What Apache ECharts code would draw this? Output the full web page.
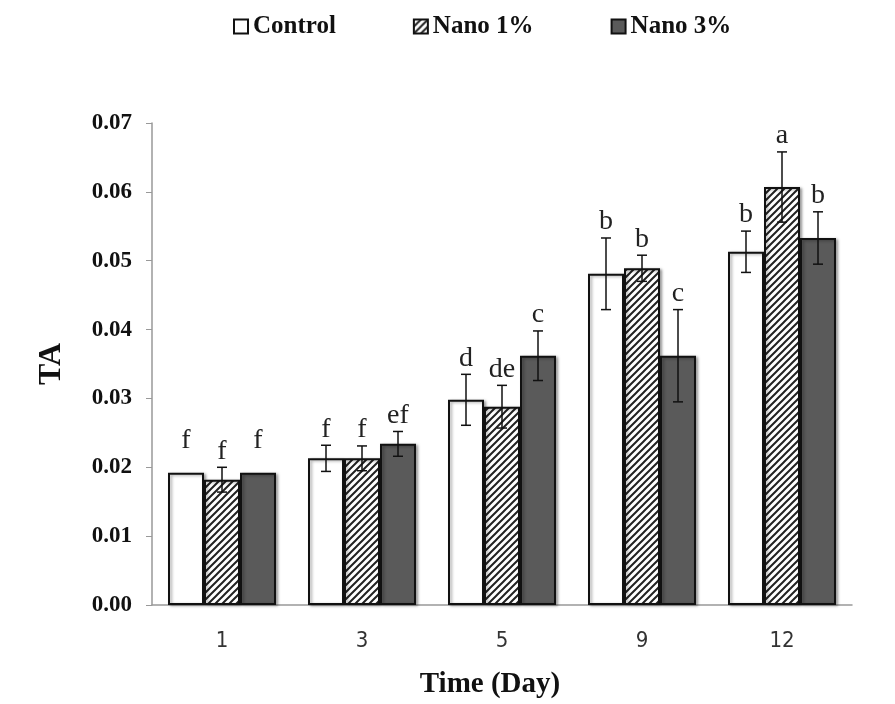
<!DOCTYPE html>
<html>
<head>
<meta charset="utf-8">
<script src="https://cdn.jsdelivr.net/npm/echarts@6/dist/echarts.min.js"></script>
<style>
html,body{margin:0;padding:0;background:#fff;}
#chart{width:895px;height:704px;}
</style>
</head>
<body>
<div id="chart"></div>
<script>
// 数据
var days = ['1', '3', '5', '9', '12'];
var names = ['Control', 'Nano 1%', 'Nano 3%'];
var control = [0.0192, 0.0213, 0.0298, 0.0481, 0.0513];
var nano1 = [0.0182, 0.0213, 0.0288, 0.0489, 0.0607];
var nano3 = [0.0192, 0.0234, 0.0362, 0.0362, 0.0533];
var errControl = [0, 0.0019, 0.0037, 0.0052, 0.0030];
var errNano1 = [0.0018, 0.0018, 0.0031, 0.0019, 0.0051];
var errNano3 = [0, 0.0018, 0.0036, 0.0067, 0.0038];
var letControl = ['f', 'f', 'd', 'b', 'b'];
var letNano1 = ['f', 'f', 'de', 'b', 'a'];
var letNano3 = ['f', 'ef', 'c', 'c', 'b'];
var yTicks = ['0.00', '0.01', '0.02', '0.03', '0.04', '0.05', '0.06', '0.07'];

var BAR_W = 36;

// 斜线填充
function hatch() {
	var c = document.createElement('canvas');
	c.width = 7; c.height = 7;
	var ctx = c.getContext('2d');
	ctx.fillStyle = '#fff';
	ctx.fillRect(0, 0, 7, 7);
	ctx.strokeStyle = '#222';
	ctx.lineWidth = 2;
	ctx.beginPath();
	ctx.moveTo(-1, 8); ctx.lineTo(8, -1);
	ctx.moveTo(-4.5, 4.5); ctx.lineTo(4.5, -4.5);
	ctx.moveTo(2.5, 11.5); ctx.lineTo(11.5, 2.5);
	ctx.stroke();
	return c;
}

var vals = [control, nano1, nano3];
var errs = [errControl, errNano1, errNano3];
var lets = [letControl, letNano1, letNano3];
var errData = [];
for (var s = 0; s < 3; s++) {
	for (var i = 0; i < days.length; i++) {
		errData.push([i, s, vals[s][i], errs[s][i], lets[s][i]]);
	}
}

var serif = '"Liberation Serif", "Times New Roman", serif';
var fills = [
	'#ffffff',
	{ image: hatch(), repeat: 'repeat' },
	'#5a5a5a'
];

var myChart = echarts.init(document.getElementById('chart'));
var series = [];
for (var k = 0; k < 3; k++) {
	series.push({
		name: names[k],
		type: 'bar',
		barWidth: BAR_W,
		barGap: '0%',
		data: vals[k],
		itemStyle: {
			color: fills[k],
			borderColor: '#111',
			borderWidth: 2,
			shadowBlur: 3,
			shadowOffsetX: 2,
			shadowOffsetY: 1,
			shadowColor: 'rgba(0,0,0,0.35)'
		}
	});
}
// 误差线 + 字母
series.push({
	type: 'custom',
	z: 10,
	silent: true,
	data: errData,
	renderItem: function (params, api) {
		var cat = api.value(0), s = api.value(1), v = api.value(2), e = api.value(3);
		var letter = errData[params.dataIndex][4];
		var cx = api.coord([cat, 0])[0] + (s - 1) * BAR_W;
		var yHi = api.coord([cat, v + e])[1];
		var yLo = api.coord([cat, v - e])[1];
		var children = [];
		if (e > 0) {
			var st = { stroke: '#111', lineWidth: 1.5 };
			children.push({ type: 'line', shape: { x1: cx, y1: yHi, x2: cx, y2: yLo }, style: st });
			children.push({ type: 'line', shape: { x1: cx - 5, y1: yHi, x2: cx + 5, y2: yHi }, style: st });
			children.push({ type: 'line', shape: { x1: cx - 5, y1: yLo, x2: cx + 5, y2: yLo }, style: st });
		}
		var top = e > 0 ? yHi : api.coord([cat, v])[1] - 16;
		children.push({
			type: 'text',
			style: {
				text: letter, x: cx, y: top - 2,
				align: 'center', verticalAlign: 'bottom',
				font: '28px ' + serif, fill: '#222'
			}
		});
		return { type: 'group', children: children };
	}
});

var option = {
	animation: false,
	legend: {
		data: names,
		top: 9,
		left: 228,
		itemGap: 77,
		itemWidth: 14,
		itemHeight: 14,
		icon: 'rect',
		textStyle: { fontFamily: serif, fontWeight: 'bold', fontSize: 25, color: '#111' }
	},
	grid: { left: 152, right: 43, top: 123, bottom: 99, outerBoundsMode: 'none' },
	xAxis: {
		type: 'category',
		data: days,
		name: 'Time (Day)',
		nameLocation: 'middle',
		nameGap: 65,
		nameTextStyle: { fontFamily: serif, fontWeight: 'bold', fontSize: 29, color: '#111', padding: [0, 24, 0, 0] },
		axisLine: { lineStyle: { color: '#999', width: 1.5 } },
		axisTick: { show: false },
		axisLabel: {
			margin: 25, fontSize: 22, color: '#333',
			fontFamily: '"Liberation Sans Narrow", "DejaVu Sans Condensed", sans-serif'
		}
	},
	yAxis: {
		type: 'value',
		min: 0,
		max: 0.07,
		interval: 0.01,
		name: 'TA',
		nameLocation: 'middle',
		nameGap: 84,
		nameTextStyle: { fontFamily: serif, fontWeight: 'bold', fontSize: 32, color: '#111' },
		splitLine: { show: false },
		axisLine: { show: true, lineStyle: { color: '#999', width: 1.5 } },
		axisTick: { show: true, length: 6, lineStyle: { color: '#999' } },
		axisLabel: {
			margin: 20, fontSize: 23, fontWeight: 'bold', fontFamily: serif, color: '#111',
			formatter: function (v) { return yTicks[Math.round(v * 100)]; }
		}
	},
	series: series
};
myChart.setOption(option);
</script>
</body>
</html>
